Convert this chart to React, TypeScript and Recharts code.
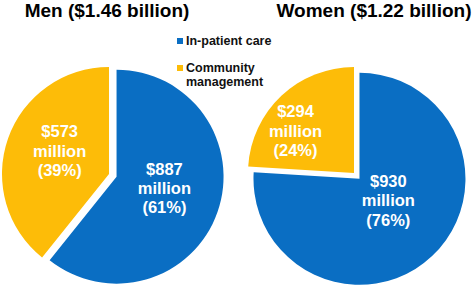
import React from 'react';
import { PieChart, Pie, Cell, Sector, Legend } from 'recharts';

// categories and values
const categories = ['In-patient care', 'Community management'];
const menValues = [887, 573];
const menPercents = [61, 39];
const womenValues = [930, 294];
const womenPercents = [76, 24];
const titles = ['Men ($1.46 billion)', 'Women ($1.22 billion)'];

const COLORS = ['#0A6EC3', '#FDBC08'];
const FONT = '"Liberation Sans", Arial, Helvetica, sans-serif';
const RAD = Math.PI / 180;
const EXPLODE = 8; // in-patient slice is pulled out a little

const menData = categories.map((name, i) => ({ name, value: menValues[i] }));
const womenData = categories.map((name, i) => ({ name, value: womenValues[i] }));

// label placement: fraction of radius + small angle shift per slice
const menLabelPos = [{ r: 0.46, shift: 6 }, { r: 0.51, shift: -6 }];
const womenLabelPos = [{ r: 0.34, shift: 10 }, { r: 0.68, shift: 11 }];

const explodeOffset = (isMain: boolean, midAngle: number) => {
  const d = isMain ? EXPLODE : 0;
  return { dx: d * Math.cos(-midAngle * RAD), dy: d * Math.sin(-midAngle * RAD) };
};

const renderSlice = (props: any) => {
  const name = props.name ?? props.payload?.name;
  const { dx, dy } = explodeOffset(name === categories[0], props.midAngle);
  return <Sector {...props} cx={props.cx + dx} cy={props.cy + dy} />;
};

const makeLabel = (values: number[], percents: number[], pos: { r: number; shift: number }[]) =>
  (props: any) => {
    const { cx, cy, midAngle, outerRadius, index } = props;
    const { dx, dy } = explodeOffset(index === 0, midAngle);
    const a = (midAngle + pos[index].shift) * RAD;
    const x = cx + dx + outerRadius * pos[index].r * Math.cos(-a);
    const y = cy + dy + outerRadius * pos[index].r * Math.sin(-a);
    const lines = [`$${values[index]}`, 'million', `(${percents[index]}%)`];
    return (
      <text
        x={x}
        y={y}
        fill="#fff"
        textAnchor="middle"
        style={{ fontFamily: FONT, fontWeight: 700, fontSize: 16.5 }}
      >
        {lines.map((l, i) => (
          <tspan key={i} x={x} y={y + (i - 1) * 19.4} dy="0.36em">
            {l}
          </tspan>
        ))}
      </text>
    );
  };

const LegendBox = () => (
  <div style={{ fontFamily: FONT, fontWeight: 700, fontSize: 12.5, color: '#111', lineHeight: '14px' }}>
    <div style={{ display: 'flex', alignItems: 'flex-start', marginBottom: 13 }}>
      <span style={{ width: 6, height: 6, background: COLORS[0], marginTop: 4, marginRight: 3 }} />
      <span>{categories[0]}</span>
    </div>
    <div style={{ display: 'flex', alignItems: 'flex-start' }}>
      <span style={{ width: 6, height: 6, background: COLORS[1], marginTop: 4, marginRight: 3 }} />
      <span>
        Community
        <br />
        management
      </span>
    </div>
  </div>
);

export default function App() {
  const titleStyle: React.CSSProperties = {
    position: 'absolute',
    top: 0,
    fontFamily: FONT,
    fontWeight: 700,
    fontSize: 19,
    lineHeight: '22px',
    color: '#000',
    whiteSpace: 'nowrap',
    transform: 'translateX(-50%)',
  };
  return (
    <div style={{ position: 'absolute', left: 0, top: 0, width: 472, height: 288, background: '#fff' }}>
      <div style={{ ...titleStyle, left: 107 }}>{titles[0]}</div>
      <div style={{ ...titleStyle, left: 374 }}>{titles[1]}</div>
      <PieChart width={472} height={288} margin={{ top: 0, right: 0, bottom: 0, left: 0 }}>
        <Pie
          data={menData}
          dataKey="value"
          nameKey="name"
          cx={109}
          cy={174}
          outerRadius={107}
          startAngle={90}
          endAngle={-270}
          stroke="none"
          shape={renderSlice}
          label={makeLabel(menValues, menPercents, menLabelPos)}
          labelLine={false}
          isAnimationActive={false}
        >
          {menData.map((d, i) => (
            <Cell key={d.name} fill={COLORS[i]} />
          ))}
        </Pie>
        <Pie
          data={womenData}
          dataKey="value"
          nameKey="name"
          cx={354}
          cy={173}
          outerRadius={106}
          startAngle={90}
          endAngle={-270}
          stroke="none"
          shape={renderSlice}
          label={makeLabel(womenValues, womenPercents, womenLabelPos)}
          labelLine={false}
          isAnimationActive={false}
        >
          {womenData.map((d, i) => (
            <Cell key={d.name} fill={COLORS[i]} />
          ))}
        </Pie>
        <Legend
          content={() => <LegendBox />}
          wrapperStyle={{ position: 'absolute', left: 177, top: 34, width: 'auto' }}
        />
      </PieChart>
    </div>
  );
}
